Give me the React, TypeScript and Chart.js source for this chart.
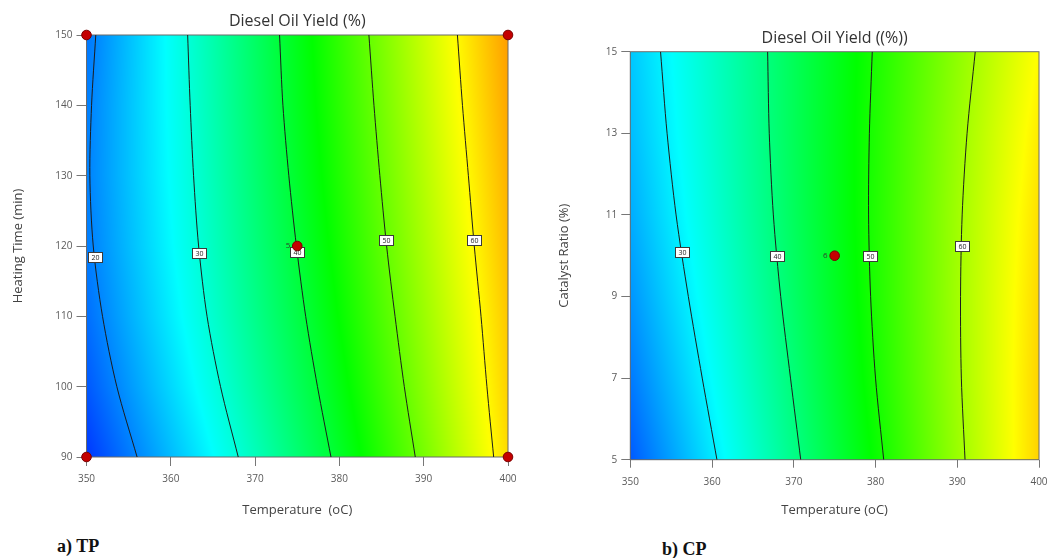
import { useEffect, useRef } from "react";
import { Chart, registerables } from "chart.js";

Chart.register(...registerables);

// ---- Panel a) Temperature vs heating time ----
const tpTimes = [150, 140, 130, 120, 110, 100, 90];
const tpLevels = [20, 30, 40, 50, 60];
const tpContour20 = [351.1, 350.6, 350.4, 350.8, 351.9, 353.6, 356.0];
const tpContour30 = [362.0, 362.3, 362.7, 363.3, 364.3, 365.9, 368.0];
const tpContour40 = [372.9, 373.3, 374.0, 374.9, 376.0, 377.4, 379.0];
const tpContour50 = [383.5, 384.1, 384.8, 385.6, 386.6, 387.7, 389.0];
const tpContour60 = [394.0, 394.6, 395.3, 396.0, 396.8, 397.5, 398.3];
const tpLabelTimes = [118.4, 119.0, 119.2, 120.8, 120.8];
const tpDesignTemps = [350, 400, 350, 400, 375];
const tpDesignTimes = [150, 150, 90, 90, 120];
const tpCenterRuns = "5";

// ---- Panel b) Temperature vs catalyst ratio ----
const cpRatios = [15, 13, 11, 9, 7, 5];
const cpLevels = [30, 40, 50, 60];
const cpContour30 = [353.7, 354.5, 355.6, 357.1, 358.8, 360.6];
const cpContour40 = [366.8, 367.0, 367.5, 368.4, 369.6, 370.85];
const cpContour50 = [379.6, 379.25, 379.15, 379.4, 380.0, 381.0];
const cpContour60 = [392.2, 391.2, 390.6, 390.4, 390.5, 390.95];
const cpLabelRatios = [10.1, 10.0, 10.0, 10.24];
const cpDesignTemps = [375];
const cpDesignRatios = [10];
const cpCenterRuns = "6";

const FONT = "'Open Sans', 'Noto Sans', sans-serif";

type PanelSpec = {
  title: string;
  titleY: number;
  xTitle: string;
  yTitle: string;
  yMin: number;
  yMax: number;
  yStep: number;
  axisVals: number[];
  contours: number[][];
  levels: number[];
  labelVals: number[];
  designX: number[];
  designY: number[];
  centerRuns: string;
  cyan: number;
  step: number;
  pad: { top: number; right: number };
  yAxisWidth: number;
  xAxisHeight: number;
  yTitlePad: number;
  xTitlePad: number;
  yTickLen: number;
  xTickLen: number;
  xTickPad: number;
};

function interpAlong(ys: number[], xs: number[], y: number) {
  const n = ys.length;
  for (let k = 0; k < n - 1; k++) {
    const y0 = ys[k];
    const y1 = ys[k + 1];
    if (y >= Math.min(y0, y1) && y <= Math.max(y0, y1)) {
      const t = (y - y0) / (y1 - y0);
      return xs[k] + t * (xs[k + 1] - xs[k]);
    }
  }
  return Math.abs(y - ys[0]) < Math.abs(y - ys[n - 1]) ? xs[0] : xs[n - 1];
}

function levelAt(pos: number[], levels: number[], x: number) {
  const n = pos.length;
  let k = 0;
  if (x <= pos[0]) k = 0;
  else if (x >= pos[n - 1]) k = n - 2;
  else {
    while (k < n - 2 && x > pos[k + 1]) k++;
  }
  const t = (x - pos[k]) / (pos[k + 1] - pos[k]);
  return levels[k] + t * (levels[k + 1] - levels[k]);
}

const RAMP = [
  [0, 0, 255],
  [0, 255, 255],
  [0, 255, 0],
  [255, 255, 0],
  [255, 0, 0],
];

function rainbow(v: number, cyan: number, step: number) {
  let t = (v - (cyan - step)) / step;
  t = Math.max(0, Math.min(RAMP.length - 1 - 1e-6, t));
  const k = Math.floor(t);
  const f = t - k;
  const a = RAMP[k];
  const b = RAMP[k + 1];
  return [a[0] + (b[0] - a[0]) * f, a[1] + (b[1] - a[1]) * f, a[2] + (b[2] - a[2]) * f];
}

function makePlugin(p: PanelSpec) {
  return {
    id: "yieldContour",
    beforeDatasetsDraw(chart: any) {
      const { ctx, chartArea: a, scales } = chart;
      const w = Math.round(a.right - a.left);
      const h = Math.round(a.bottom - a.top);
      const off = document.createElement("canvas");
      off.width = w;
      off.height = h;
      const octx = off.getContext("2d")!;
      const img = octx.createImageData(w, h);
      for (let j = 0; j < h; j++) {
        const yv = scales.y.getValueForPixel(a.top + ((j + 0.5) * (a.bottom - a.top)) / h);
        const pos = p.contours.map((c) => interpAlong(p.axisVals, c, yv));
        for (let i = 0; i < w; i++) {
          const xv = scales.x.getValueForPixel(a.left + ((i + 0.5) * (a.right - a.left)) / w);
          const [r, g, b] = rainbow(levelAt(pos, p.levels, xv), p.cyan, p.step);
          const o = (j * w + i) * 4;
          img.data[o] = r;
          img.data[o + 1] = g;
          img.data[o + 2] = b;
          img.data[o + 3] = 255;
        }
      }
      octx.putImageData(img, 0, 0);
      ctx.save();
      ctx.drawImage(off, a.left, a.top, a.right - a.left, a.bottom - a.top);
      ctx.strokeStyle = "#6b6b6b";
      ctx.lineWidth = 1;
      ctx.strokeRect(a.left, a.top, a.right - a.left, a.bottom - a.top);
      ctx.restore();
    },
    afterDatasetDraw(chart: any, args: any) {
      // contour labels go above the lines but below the design points
      if (args.index !== 1) return;
      const { ctx, scales } = chart;
      ctx.save();
      ctx.font = `7px ${FONT}`;
      ctx.textAlign = "center";
      ctx.textBaseline = "middle";
      p.levels.forEach((lv, k) => {
        const yv = p.labelVals[k];
        const xv = interpAlong(p.axisVals, p.contours[k], yv);
        const px = scales.x.getPixelForValue(xv);
        const py = scales.y.getPixelForValue(yv);
        const txt = String(lv);
        const bw = Math.round(ctx.measureText(txt).width + 6);
        const bh = 10;
        const bx = Math.round(px - bw / 2) + 0.5;
        const by = Math.round(py - bh / 2) + 0.5;
        ctx.fillStyle = "#ffffff";
        ctx.fillRect(bx, by, bw, bh);
        ctx.strokeStyle = "#3a3a3a";
        ctx.lineWidth = 1;
        ctx.strokeRect(bx, by, bw, bh);
        ctx.fillStyle = "#222";
        ctx.fillText(txt, bx + bw / 2, by + bh / 2 + 0.5);
      });
      ctx.restore();
    },
    afterDraw(chart: any) {
      const { ctx, chartArea: a, scales } = chart;
      ctx.save();
      ctx.font = `16px ${FONT}`;
      ctx.fillStyle = "#333";
      ctx.textAlign = "center";
      ctx.textBaseline = "middle";
      ctx.fillText(p.title, (a.left + a.right) / 2, p.titleY);
      // replicate count beside the centre point
      const cx = scales.x.getPixelForValue(p.designX[p.designX.length - 1]);
      const cy = scales.y.getPixelForValue(p.designY[p.designY.length - 1]);
      ctx.font = `8px ${FONT}`;
      ctx.fillStyle = "#2d3d2d";
      ctx.textAlign = "right";
      ctx.fillText(p.centerRuns, cx - 7, cy);
      ctx.restore();
    },
  };
}

function ContourPanel({ p, width, height }: { p: PanelSpec; width: number; height: number }) {
  const ref = useRef<HTMLCanvasElement | null>(null);
  useEffect(() => {
    if (!ref.current) return;
    const contourSets = p.contours.map((c) => ({
      data: p.axisVals.map((v, k) => ({ x: c[k], y: v })),
      showLine: true,
      borderColor: "#1c1c1c",
      borderWidth: 1,
      pointRadius: 0,
      tension: 0.3,
    }));
    const chart = new Chart(ref.current, {
      type: "scatter",
      data: {
        datasets: [
          {
            data: p.designX.map((x, k) => ({ x, y: p.designY[k] })),
            pointRadius: 4.8,
            backgroundColor: "#c40000",
            borderColor: "#7a0000",
            borderWidth: 1,
            clip: false,
          } as any,
          ...contourSets,
        ],
      },
      options: {
        responsive: false,
        maintainAspectRatio: false,
        animation: false,
        layout: { padding: { top: p.pad.top, right: p.pad.right, left: 0, bottom: 0 } },
        plugins: { legend: { display: false }, tooltip: { enabled: false }, title: { display: false } },
        scales: {
          x: {
            type: "linear",
            min: 350,
            max: 400,
            ticks: { stepSize: 10, color: "#5a5a5a", font: { family: FONT, size: 10 }, padding: p.xTickPad },
            grid: { display: true, drawOnChartArea: false, drawTicks: true, tickLength: p.xTickLen, tickColor: "#777" },
            border: { display: false },
            title: {
              display: true,
              text: p.xTitle,
              color: "#444",
              font: { family: FONT, size: 13 },
              padding: { top: 0, bottom: p.xTitlePad },
            },
            afterFit: (s: any) => {
              s.height = p.xAxisHeight;
              s.paddingLeft = 0;
              s.paddingRight = 0;
            },
          },
          y: {
            type: "linear",
            min: p.yMin,
            max: p.yMax,
            ticks: { stepSize: p.yStep, color: "#5a5a5a", font: { family: FONT, size: 10 }, padding: 4 },
            grid: { display: true, drawOnChartArea: false, drawTicks: true, tickLength: p.yTickLen, tickColor: "#777" },
            border: { display: false },
            title: {
              display: true,
              text: p.yTitle,
              color: "#444",
              font: { family: FONT, size: 13 },
              padding: { top: p.yTitlePad, bottom: 0 },
            },
            afterFit: (s: any) => {
              s.width = p.yAxisWidth;
              s.paddingTop = 0;
              s.paddingBottom = 0;
            },
          },
        },
      },
      plugins: [makePlugin(p)],
    });
    return () => chart.destroy();
  }, [p]);
  return <canvas ref={ref} width={width} height={height} style={{ display: "block", width, height }} />;
}

const tpPanel: PanelSpec = {
  title: "Diesel Oil Yield (%)",
  titleY: 21,
  xTitle: "Temperature  (oC)",
  yTitle: "Heating Time (min)",
  yMin: 90,
  yMax: 150,
  yStep: 10,
  axisVals: tpTimes,
  contours: [tpContour20, tpContour30, tpContour40, tpContour50, tpContour60],
  levels: tpLevels,
  labelVals: tpLabelTimes,
  designX: tpDesignTemps,
  designY: tpDesignTimes,
  centerRuns: tpCenterRuns,
  cyan: 27.6,
  step: 16,
  pad: { top: 35, right: 16 },
  yAxisWidth: 86.5,
  xAxisHeight: 73,
  yTitlePad: 10.4,
  xTitlePad: 11.7,
  yTickLen: 10,
  xTickLen: 9,
  xTickPad: 7,
};

const cpPanel: PanelSpec = {
  title: "Diesel Oil Yield ((%))",
  titleY: 38.5,
  xTitle: "Temperature (oC)",
  yTitle: "Catalyst Ratio (%)",
  yMin: 5,
  yMax: 15,
  yStep: 2,
  axisVals: cpRatios,
  contours: [cpContour30, cpContour40, cpContour50, cpContour60],
  levels: cpLevels,
  labelVals: cpLabelRatios,
  designX: cpDesignTemps,
  designY: cpDesignRatios,
  centerRuns: cpCenterRuns,
  cyan: 31,
  step: 17.5,
  pad: { top: 51.7, right: 9 },
  yAxisWidth: 106.3,
  xAxisHeight: 70.3,
  yTitlePad: 32,
  xTitlePad: 11.5,
  yTickLen: 9,
  xTickLen: 8,
  xTickPad: 8,
};

const captionStyle = {
  position: "absolute" as const,
  fontFamily: "'Liberation Serif', 'Times New Roman', serif",
  fontWeight: 700,
  fontSize: 18,
  lineHeight: "18px",
  color: "#111",
  whiteSpace: "nowrap" as const,
};

export default function App() {
  return (
    <div style={{ position: "absolute", left: 0, top: 0, width: 1048, height: 558, background: "#fff", overflow: "hidden" }}>
      <div style={{ position: "absolute", left: 0, top: 0 }}>
        <ContourPanel p={tpPanel} width={524} height={530} />
      </div>
      <div style={{ position: "absolute", left: 524, top: 0 }}>
        <ContourPanel p={cpPanel} width={524} height={530} />
      </div>
      <div style={{ ...captionStyle, left: 57, top: 537 }}>a) TP</div>
      <div style={{ ...captionStyle, left: 662, top: 540 }}>b) CP</div>
    </div>
  );
}
